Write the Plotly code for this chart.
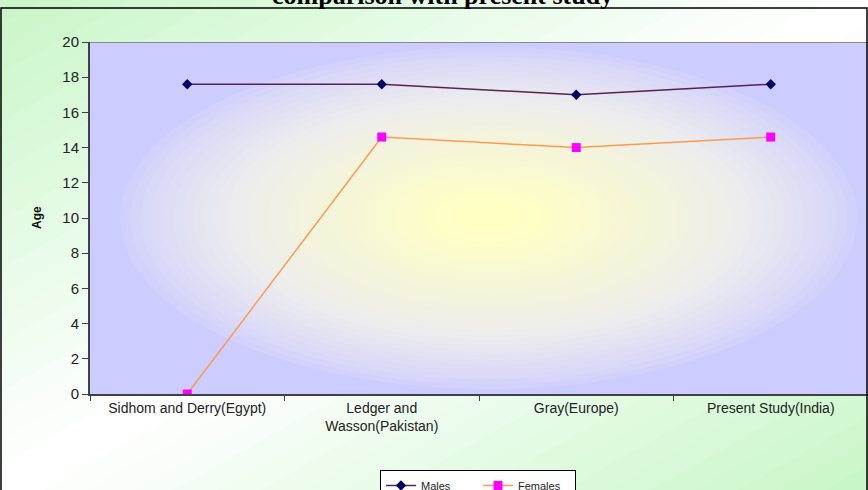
import plotly.graph_objects as go

categories = ["Sidhom and Derry(Egypt)", "Ledger and<br>Wasson(Pakistan)", "Gray(Europe)", "Present Study(India)"]
males = [17.6, 17.6, 17.0, 17.6]
females = [0, 14.6, 14.0, 14.6]
y_ticks = [0, 2, 4, 6, 8, 10, 12, 14, 16, 18, 20]

W, H = 868, 490
L, R, T, B = 90, 0, 42, 96
PW, PH = W - L - R, H - T - B


def px2paper(px, py):
    return (px - L) / PW, (H - B - py) / PH


def lerp(c1, c2, t):
    return "rgb(%d,%d,%d)" % tuple(round(a + (b - a) * t) for a, b in zip(c1, c2))


def lerp3(c1, c2, c3, t, m=0.45):
    if t < m:
        return lerp(c1, c2, t / m)
    return lerp(c2, c3, (t - m) / (1 - m))


shapes = []

# paper background: diagonal green-white-green gradient
green = (198, 246, 198)
white = (255, 255, 255)
N = 40
for i in range(N):
    t0, t1 = i / N, (i + 1) / N
    tm = (t0 + t1) / 2
    d = abs(tm - 0.5) / 0.5
    col = lerp(white, green, d ** 1.1)
    pts_uv = [(2 * t0 + 1, -1), (-1, 2 * t0 + 1), (-1, 2 * t1 + 1.02), (2 * t1 + 1.02, -1)]
    pts = [px2paper(u * W, v * H) for u, v in pts_uv]
    path = "M " + " L ".join("%f,%f" % p for p in pts) + " Z"
    shapes.append(dict(type="path", xref="paper", yref="paper", path=path,
                       fillcolor=col, line=dict(width=0), layer="below"))

# plot area: radial lavender -> pale yellow gradient
lav = (204, 204, 255)
mid = (236, 236, 238)
yel = (255, 255, 196)
shapes.append(dict(type="rect", xref="x", yref="y", x0=-0.5, x1=3.5, y0=0, y1=20,
                   fillcolor=lerp(lav, lav, 0), line=dict(width=0), layer="below"))
cx, cy, rx, ry = 1.55, 10.0, 1.95, 10.0
M = 36
for i in range(M):
    s = 1 - i / M
    t = min(1.0, (i / M) ** 0.75 * 1.08)
    shapes.append(dict(type="circle", xref="x", yref="y",
                       x0=cx - rx * s, x1=cx + rx * s, y0=cy - ry * s, y1=cy + ry * s,
                       fillcolor=lerp3(lav, mid, yel, t), line=dict(width=0), layer="below"))

# top border of plot area
shapes.append(dict(type="line", xref="x", yref="y", x0=-0.5, x1=3.5, y0=20, y1=20,
                   line=dict(color="#8a8a8a", width=2), layer="above"))

# outer frame
fx0, fy0 = px2paper(1, 8)
fx1, fy1 = px2paper(867, 505)
shapes.append(dict(type="rect", xref="paper", yref="paper", x0=fx0, x1=fx1, y0=fy1, y1=fy0,
                   line=dict(color="black", width=1.5), fillcolor="rgba(0,0,0,0)", layer="above"))

fig = go.Figure()
fig.add_trace(go.Scatter(x=categories, y=males, name="Males", mode="lines+markers",
                         line=dict(color="#5a2050", width=1.5),
                         marker=dict(symbol="diamond", size=8, color="#000066")))
fig.add_trace(go.Scatter(x=categories, y=females, name="Females", mode="lines+markers",
                         line=dict(color="#FF9A50", width=1.5),
                         marker=dict(symbol="square", size=9, color="#FF00FF")))

tx, ty = px2paper(442, 12)
ax_x, ax_y = px2paper(37, 218)
lx, ly = px2paper(478, 470)

fig.update_layout(
    width=W, height=H,
    margin=dict(l=L, r=R, t=T, b=B, autoexpand=False),
    paper_bgcolor="white",
    plot_bgcolor="#CCCCFF",
    shapes=shapes,
    showlegend=True,
    legend=dict(orientation="h", x=lx, y=ly, xanchor="center", yanchor="top",
                bgcolor="white", bordercolor="black", borderwidth=1,
                font=dict(family="Liberation Sans, Arial", size=11, color="#222"),
                entrywidth=52, itemwidth=30, tracegroupgap=0),
    annotations=[
        dict(text="<b>comparison with present study</b>", x=tx, y=ty, xref="paper", yref="paper",
             xanchor="center", yanchor="bottom", showarrow=False,
             font=dict(family="Liberation Serif, Times New Roman", size=26, color="black")),
        dict(text="<b>Age</b>", x=ax_x, y=ax_y, xref="paper", yref="paper",
             xanchor="center", yanchor="middle", showarrow=False, textangle=-90,
             font=dict(family="Liberation Sans, Arial", size=12, color="#111")),
    ],
    xaxis=dict(type="category", range=[-0.5, 3.5], showgrid=False, zeroline=False,
               showline=True, linecolor="#404048", linewidth=2,
               ticks="outside", tickson="boundaries", ticklen=5, tickcolor="#404048",
               tickfont=dict(family="Liberation Sans, Arial", size=14, color="#222")),
    yaxis=dict(range=[0, 20], tickvals=y_ticks, showgrid=False, zeroline=False,
               showline=True, linecolor="#404048", linewidth=2,
               ticks="outside", ticklen=6, tickcolor="#404048",
               tickfont=dict(family="Liberation Sans, Arial", size=15, color="#222")),
)

fig.write_html("out.html", config={"displayModeBar": False},
               post_script="document.body.style.margin='0';document.body.style.overflow='hidden';")
